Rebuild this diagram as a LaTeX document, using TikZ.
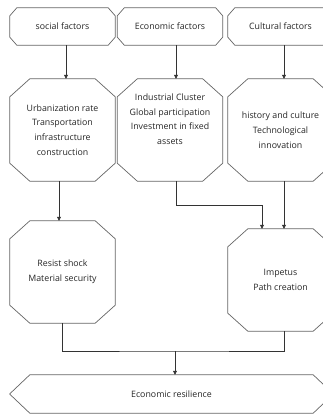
\documentclass[tikz,border=0pt]{standalone}
\usepackage{fontspec}
\setmainfont{Open Sans}
\usetikzlibrary{arrows.meta}
\def\largeur{323}
\def\hauteur{414}
% outline with cut corners round a named node: name, cut in x, cut in y
\newcommand\chanfrein[3]{%
  \draw[edge] ([xshift=#2]#1.north west) -- ([xshift=-#2]#1.north east)
    -- ([yshift=-#3]#1.north east) -- ([yshift=#3]#1.south east)
    -- ([xshift=-#2]#1.south east) -- ([xshift=#2]#1.south west)
    -- ([yshift=#3]#1.south west) -- ([yshift=-#3]#1.north west) -- cycle;}

\begin{document}
\begin{tikzpicture}[x=1pt, y=-1pt,
  box/.style={rectangle, align=center, inner sep=0pt, text=black!85,
    font=\fontsize{8.8}{14.7}\selectfont},
  small/.style={box, minimum width=105pt, minimum height=37pt},
  big/.style={box, minimum width=105pt, minimum height=102pt},
  hexa/.style={box, minimum width=323pt, minimum height=38pt},
  edge/.style={line width=0.7pt, black!60},
  link/.style={line width=0.7pt, black!80},
  arr/.style={link, -{Triangle[length=4pt,width=4pt]}}]
%\draw[step=10pt, black!20] (0,0) grid (\largeur,\hauteur);
\clip (0,0) rectangle (\largeur,\hauteur);
\fill[white] (0,0) rectangle (\largeur,\hauteur);
    \node[small] (soc) at (62.5,26.5) {social factors};
    \node[small] (eco) at (170,26.5) {Economic factors};
    \node[small] (cul) at (280.5,26.5) {Cultural factors};
    \node[big] (urb) at (62.5,130) {Urbanization rate\\Transportation\\infrastructure\\construction};
    \node[big] (ind) at (170,130) {Industrial Cluster\\Global participation\\Investment in fixed\\assets\\[7pt]};
    \node[big] (his) at (280.5,130) {history and culture\\Technological\\innovation};
    \node[big] (res) at (62.5,272) {Resist shock\\Material security};
    \node[big] (imp) at (280.5,280) {Impetus\\Path creation};
    \node[hexa] (resil) at (171.5,394) {Economic resilience};
    \foreach \n in {soc,eco,cul} {\chanfrein{\n}{7pt}{8pt}}
    \foreach \n in {urb,ind,his,res,imp} {\chanfrein{\n}{20pt}{18pt}}
    \chanfrein{resil}{20pt}{19pt}
    \coordinate (j1) at (262,205);
    \coordinate (j2) at (175,351);
    \draw[arr] ([xshift=3.5pt]soc.south) -- ([xshift=3.5pt]urb.north);
    \draw[arr] ([xshift=6pt]eco.south) -- ([xshift=6pt]ind.north);
    \draw[arr] ([xshift=3.5pt]cul.south) -- ([xshift=3.5pt]his.north);
    \draw[arr] ([xshift=-3.5pt]urb.south) -- ([xshift=-3.5pt]res.north);
    \draw[arr] ([xshift=6pt]ind.south) |- (j1) -- (j1 |- imp.north);
    \draw[arr] ([xshift=3.5pt]his.south) -- ([xshift=3.5pt]imp.north);
    \draw[link] (res.south) |- (j2) -| ([xshift=3.5pt]imp.south);
    \draw[arr] (j2) -- (j2 |- resil.north);
\end{tikzpicture}
\end{document}
